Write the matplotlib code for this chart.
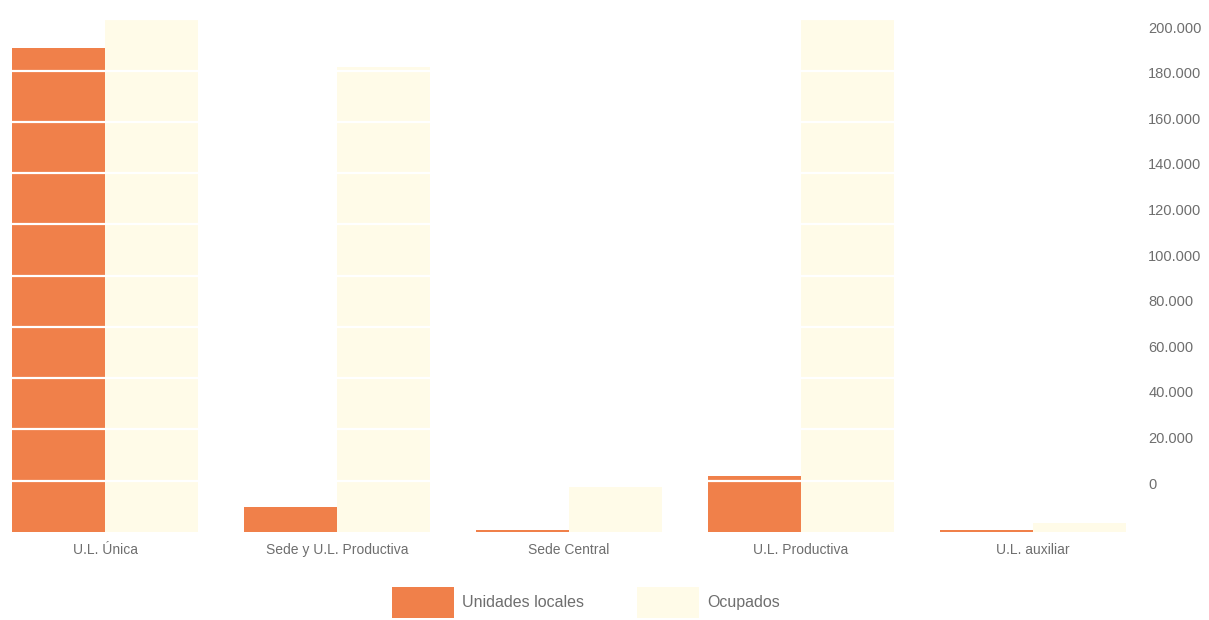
import numpy as np
import matplotlib
matplotlib.use("Agg")
import matplotlib.pyplot as plt
from matplotlib.ticker import FuncFormatter

# data
categorias = ['U.L. Única', 'Sede y U.L. Productiva', 'Sede Central',
              'U.L. Productiva', 'U.L. auxiliar']
unidades_locales = [188900, 9900, 800, 21900, 800]
ocupados = [199800, 181500, 17600, 200600, 3500]
ticks_derecha = list(range(0, 200001, 20000))

color_ul = '#F0804A'
color_oc = '#FFFBE8'
gris = '#6E6E6E'
fuente = ['Liberation Sans', 'DejaVu Sans']

fig = plt.figure(figsize=(12.09, 6.20), dpi=100)
ax = fig.add_axes([0.0, 88 / 620, 1140 / 1209, 520 / 620])

x = np.arange(len(categorias))
w = 0.4
ax.bar(x - w / 2, unidades_locales, width=w, color=color_ul, label='Unidades locales')
ax.bar(x + w / 2, ocupados, width=w, color=color_oc, label='Ocupados')

ax.set_xlim(-0.4526, 4.461)
ax.set_ylim(0, 202900)
ax.set_yticks(range(20000, 200001, 20000))
ax.set_axisbelow(False)
ax.yaxis.grid(True, color='white', linewidth=1.6)
ax.tick_params(axis='y', length=0, labelleft=False)
ax.set_xticks(x)
ax.set_xticklabels(categorias, family=fuente, fontsize=10, color=gris)
ax.tick_params(axis='x', length=0, pad=8)
for s in ax.spines.values():
    s.set_visible(False)

# value labels on the right (offset as printed in the original)
ax2 = ax.twinx()
ax2.set_ylim(-21491, 206579)
ax2.set_yticks(ticks_derecha)
ax2.yaxis.set_major_formatter(FuncFormatter(lambda v, p: f'{int(v):,}'.replace(',', '.')))
ax2.tick_params(axis='y', length=0, pad=6, labelsize=10.5, labelcolor=gris)
for lab in ax2.get_yticklabels():
    lab.set_family(fuente)
for s in ax2.spines.values():
    s.set_visible(False)

handles, labels = ax.get_legend_handles_labels()
leg = fig.legend(handles, labels, loc='upper left', bbox_to_anchor=(392 / 1209, 1 - 587 / 620),
                 ncol=2, frameon=False, borderpad=0, borderaxespad=0,
                 handlelength=3.9, handleheight=2.6, handletextpad=0.5,
                 columnspacing=3.3, prop={'family': fuente, 'size': 11.5})
for t in leg.get_texts():
    t.set_color(gris)

fig.savefig('out.png', dpi=100)
